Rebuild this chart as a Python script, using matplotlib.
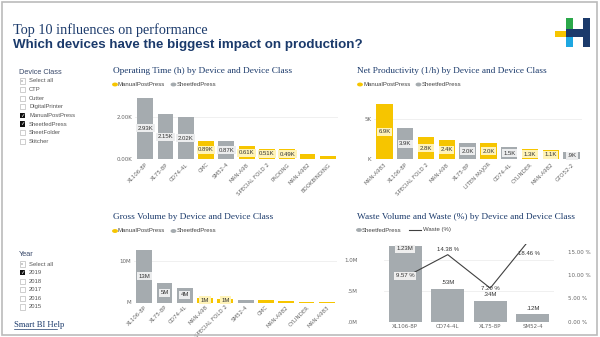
import matplotlib
matplotlib.use("Agg")
from matplotlib import pyplot as plt
from matplotlib.patches import Rectangle, Circle
from matplotlib.lines import Line2D
import numpy as np

# data
op_devices = ["XL106-8P", "XL75-8P", "CD74-4L", "CMC", "SM52-4", "MAN-A98",
              "SPECIAL FOLD 2", "PACKING", "MAN-A982", "BOOKBINDING"]
op_hours = [2.93, 2.15, 2.02, 0.89, 0.87, 0.61, 0.51, 0.49, 0.24, 0.16]
op_class = ["S", "S", "S", "M", "S", "M", "M", "M", "M", "M"]
op_labels = ["2.93K", "2.15K", "2.02K", "0.89K", "0.87K", "0.61K", "0.51K", "0.49K", "", ""]

np_devices = ["MAN-A983", "XL106-8P", "SPECIAL FOLD 2", "MAN-A98", "XL75-8P",
              "LITEN MAJOR", "CD74-4L", "CYLINDER", "MAN-A982", "GTO52-2"]
np_values = [6.9, 3.9, 2.8, 2.4, 2.0, 2.0, 1.5, 1.3, 1.1, 0.9]
np_class = ["M", "S", "M", "M", "S", "M", "S", "M", "M", "S"]
np_labels = ["6.9K", "3.9K", "2.8K", "2.4K", "2.0K", "2.0K", "1.5K", "1.3K", "1.1K", ".9K"]

gv_devices = ["XL106-8P", "XL75-8P", "CD74-4L", "MAN-A98", "SPECIAL FOLD 2",
              "SM52-4", "CMC", "MAN-A982", "CYLINDER", "MAN-A983"]
gv_values = [12.6, 4.6, 3.6, 1.0, 0.9, 0.7, 0.6, 0.3, 0.2, 0.2]
gv_class = ["S", "S", "S", "M", "M", "S", "M", "M", "M", "M"]
gv_labels = ["13M", "5M", "4M", "1M", "1M", "", "", "", "", ""]

wv_devices = ["XL106-8P", "CD74-4L", "XL75-8P", "SM52-4"]
wv_volume = [1.23, 0.53, 0.34, 0.12]
wv_pct = [9.57, 14.38, 7.20, 18.46]
wv_vol_labels = ["1.23M", ".53M", ".34M", ".12M"]
wv_pct_labels = ["9.57 %", "14.38 %", "7.20 %", "18.46 %"]

device_classes = ["Select all", "CTP", "Cutter", "DigitalPrinter", "ManualPostPress",
                  "SheetfedPress", "SheetFolder", "Stitcher"]
class_checked = [0, 0, 0, 0, 1, 1, 0, 0]
years = ["Select all", "2019", "2018", "2017", "2016", "2015"]
year_checked = [0, 1, 0, 0, 0, 0]

YEL = "#F6C500"
GRY = "#A5ABAF"
NAVY = "#1B3A6B"
TXT = "#444444"
SERIF = "Liberation Serif"
SANS = "Liberation Sans"

W, H = 600, 337
fig = plt.figure(figsize=(6, 3.37), dpi=100)


def px_axes(x0, y0, x1, y1):
    return fig.add_axes([x0 / W, 1 - y1 / H, (x1 - x0) / W, (y1 - y0) / H])


def ftext(x, y, s, **kw):
    kw.setdefault("va", "center")
    return fig.text(x / W, 1 - y / H, s, **kw)


def frect(x, y, w, h, **kw):
    fig.patches.append(Rectangle((x / W, 1 - (y + h) / H), w / W, h / H,
                                 transform=fig.transFigure, figure=fig, **kw))


def style(ax):
    for s in ax.spines.values():
        s.set_visible(False)
    ax.tick_params(length=0, labelsize=4, labelcolor="#666666", pad=2)
    ax.set_axisbelow(True)
    ax.grid(axis="y", color="#EEEEEE", linewidth=0.6)


def legend2(x, y, items):
    cx = x
    for name, col, kind in items:
        if kind == "dot":
            fig.patches.append(Circle(((cx + 2) / W, 1 - y / H), 2.2 / W,
                                      transform=fig.transFigure, color=col))
            cx += 5
        else:
            fig.lines.append(Line2D([cx / W, (cx + 12) / W], [1 - y / H] * 2,
                                    transform=fig.transFigure, color="#404040", linewidth=0.8))
            cx += 14
        ftext(cx, y, name, fontsize=4.3, color=TXT, family=SANS, ha="left")
        cx += len(name) * 3.3 + 4


def bar_chart(ax, devices, values, classes, labels, ymax, yticks, yticklabels, tfs=3.4):
    x = np.arange(len(devices))
    cols = [YEL if c == "M" else GRY for c in classes]
    ax.bar(x, values, width=0.78, color=cols)
    ax.set_xlim(-0.5, len(devices) - 0.5)
    ax.set_ylim(0, ymax)
    ax.set_yticks(yticks)
    ax.set_yticklabels(yticklabels)
    ax.set_xticks(x)
    ax.set_xticklabels(devices, rotation=45, ha="right", rotation_mode="anchor", fontsize=tfs)
    style(ax)
    for xi, v, lab, c in zip(x, values, labels, classes):
        if lab:
            y = max(v / 2, ymax * 0.045)
            fc = "#FFF3B8" if c == "M" else "#ECEDEE"
            ax.text(xi, y, lab, ha="center", va="center", fontsize=4.3, color="#333333",
                    family=SANS, bbox=dict(boxstyle="square,pad=0.25", fc=fc, ec="none"))


# border
frect(1.5, 1.5, 595.5, 333, fill=False, ec="#BBBBBB", lw=1.2)

# header
ftext(13, 30, "Top 10 influences on performance", fontsize=10.3, color=NAVY, family=SERIF)
ftext(13, 45, "Which devices have the biggest impact on production?", fontsize=9.6,
      color=NAVY, family=SANS, weight="bold")
# logo
frect(555, 31, 12, 6, color="#F6C500", lw=0)
frect(566, 18, 7, 11, color="#2BA84A", lw=0)
frect(566, 29, 7, 8, color=NAVY, lw=0)
frect(566, 37, 7, 10, color="#1EA7E1", lw=0)
frect(573, 29, 10, 8, color=NAVY, lw=0)
frect(583, 18, 7, 29, color=NAVY, lw=0)


# slicers
def slicer(y0, title, items, checked):
    ftext(19, y0, title, fontsize=5.3, color="#3A4A6B", family=SANS, ha="left")
    for i, (name, ck) in enumerate(zip(items, checked)):
        y = y0 + 9 + i * 8.6
        if ck:
            frect(19.5, y - 2.6, 5.2, 5.2, color="#111111", lw=0)
            ftext(22.1, y, "\u2713", fontsize=4, color="white", ha="center", family="DejaVu Sans")
        else:
            frect(19.5, y - 2.6, 5.2, 5.2, fill=False, ec="#BBBBBB", lw=0.5)
            if i == 0:
                frect(21, y - 1.1, 2.2, 2.2, color="#CCCCCC", lw=0)
        ftext(29, y, name, fontsize=4.2, color="#555555", family=SANS, ha="left")


slicer(72, "Device Class", device_classes, class_checked)
slicer(255, "Year", years, year_checked)
ftext(14, 325, "Smart BI Help", fontsize=6.2, color=NAVY, family=SERIF, ha="left")
fig.lines.append(Line2D([14 / W, 57 / W], [1 - 328.5 / H] * 2, transform=fig.transFigure,
                        color=NAVY, linewidth=0.5))

leg_items = [("ManualPostPress", YEL, "dot"), ("SheetfedPress", GRY, "dot")]

# Operating time
ftext(113, 71, "Operating Time (h) by Device and Device Class", fontsize=6.7, color=NAVY,
      family=SERIF, ha="left")
legend2(113, 84.5, leg_items)
ax1 = px_axes(135, 92, 338, 159.3)
bar_chart(ax1, op_devices, op_hours, op_class, op_labels, 3.2, [0, 2], ["0.00K", "2.00K"])

# Net productivity
ftext(357, 71, "Net Productivity (1/h) by Device and Device Class", fontsize=6.7, color=NAVY,
      family=SERIF, ha="left")
legend2(358, 84.5, leg_items)
ax2 = px_axes(374, 100, 582, 159.3)
bar_chart(ax2, np_devices, np_values, np_class, np_labels, 7.4, [0, 5], ["K", "5K"])

# Gross volume
ftext(113, 217, "Gross Volume by Device and Device Class", fontsize=6.7, color=NAVY,
      family=SERIF, ha="left")
legend2(113, 231, leg_items)
ax3 = px_axes(134, 247.5, 337, 302.5)
bar_chart(ax3, gv_devices, gv_values, gv_class, gv_labels, 13.2, [0, 10], ["M", "10M"], tfs=3.0)
ax3.tick_params(axis="x", pad=1.5)

# Waste volume
ftext(357, 217, "Waste Volume and Waste (%) by Device and Device Class", fontsize=6.7,
      color=NAVY, family=SERIF, ha="left")
legend2(357, 230, [("SheetfedPress", GRY, "dot"), ("Waste (%)", "#404040", "line")])
ax4 = px_axes(384, 244.3, 554, 321.7)
xw = np.arange(len(wv_devices))
ax4.bar(xw, wv_volume, width=0.78, color=GRY)
ax4.set_xlim(-0.5, len(wv_devices) - 0.5)
ax4.set_ylim(0, 1.256)
ax4.set_yticks([0, 0.5, 1.0])
ax4.set_yticklabels([".0M", ".5M", "1.0M"])
ax4.set_xticks(xw)
ax4.set_xticklabels(wv_devices, fontsize=3.8)
style(ax4)
ax4.tick_params(axis="y", pad=19)
for xi, v, lab in zip(xw, wv_volume, wv_vol_labels):
    if xi == 0:
        ax4.text(xi, v - 0.05, lab, ha="center", va="center", fontsize=4.3, color="#333333",
                 family=SANS, bbox=dict(boxstyle="square,pad=0.25", fc="#EEEEEE", ec="none"))
    else:
        ax4.text(xi, v + 0.1, lab, ha="center", va="center", fontsize=4.3, color="#333333",
                 family=SANS)
ax5 = ax4.twinx()
ax5.plot(xw, wv_pct, color="#404040", linewidth=0.8)
ax5.set_ylim(0, 16.6)
ax5.set_yticks([0, 5, 10, 15])
ax5.set_yticklabels(["0.00 %", "5.00 %", "10.00 %", "15.00 %"])
for s in ax5.spines.values():
    s.set_visible(False)
ax5.tick_params(length=0, labelsize=4, labelcolor="#666666", pad=10)
pct_off = [0, 1.1, 0, -1.6]
for xi, v, lab, off in zip(xw, wv_pct, wv_pct_labels, pct_off):
    if xi == 0:
        ax5.text(xi, v + 0.3, lab, ha="center", va="center", fontsize=4.3, color="#333333",
                 family=SANS, bbox=dict(boxstyle="square,pad=0.25", fc="#EEEEEE", ec="none"))
    elif xi == 3:
        ax5.text(xi - 0.1, 14.6, lab, ha="center", va="center", fontsize=4.3, color="#333333",
                 family=SANS)
    else:
        ax5.text(xi, v + off, lab, ha="center", va="center", fontsize=4.3, color="#333333",
                 family=SANS)

fig.savefig("out.png", dpi=100)
